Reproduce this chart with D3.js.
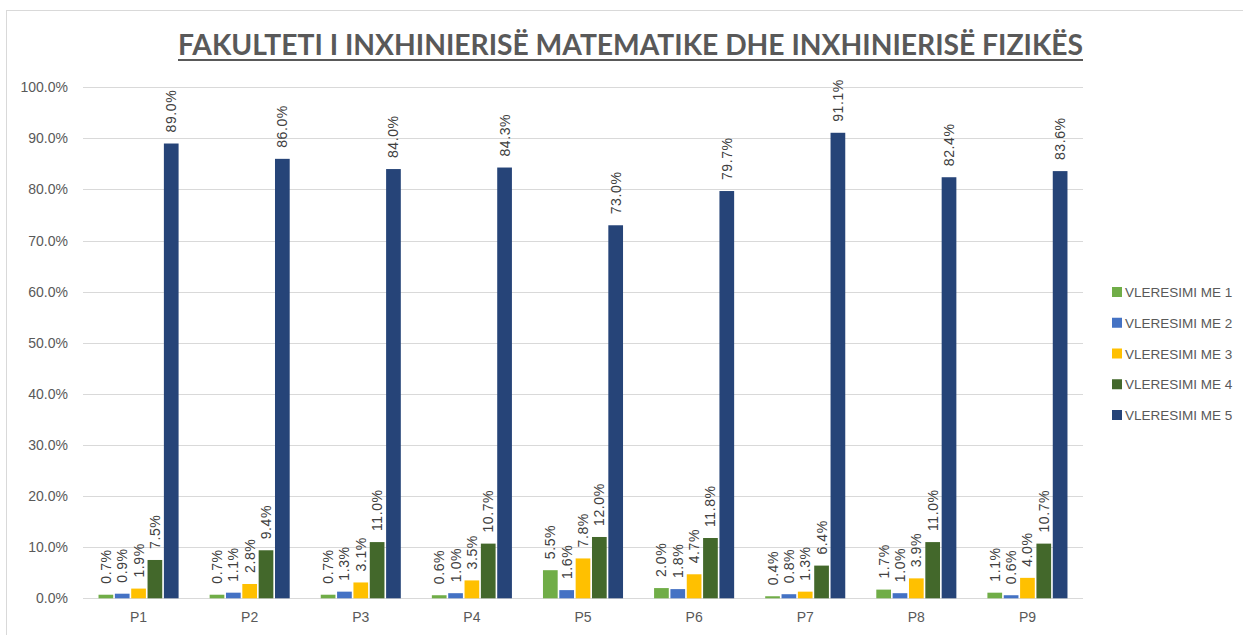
<!DOCTYPE html>
<html>
<head>
<meta charset="utf-8">
<script src="https://cdn.jsdelivr.net/npm/d3@7"></script>
<style>
  body { margin: 0; background: #fff; }
  text { font-family: "Liberation Sans", Arial, sans-serif; }
</style>
</head>
<body>
<div id="myChart"></div>
<script>
// data
var categories = ['P1', 'P2', 'P3', 'P4', 'P5', 'P6', 'P7', 'P8', 'P9'];
var seriesNames = ['VLERESIMI ME 1', 'VLERESIMI ME 2', 'VLERESIMI ME 3', 'VLERESIMI ME 4', 'VLERESIMI ME 5'];
var me1 = [0.7, 0.7, 0.7, 0.6, 5.5, 2.0, 0.4, 1.7, 1.1];
var me2 = [0.9, 1.1, 1.3, 1.0, 1.6, 1.8, 0.8, 1.0, 0.6];
var me3 = [1.9, 2.8, 3.1, 3.5, 7.8, 4.7, 1.3, 3.9, 4.0];
var me4 = [7.5, 9.4, 11.0, 10.7, 12.0, 11.8, 6.4, 11.0, 10.7];
var me5 = [89.0, 86.0, 84.0, 84.3, 73.0, 79.7, 91.1, 82.4, 83.6];
var yTicks = [0, 10, 20, 30, 40, 50, 60, 70, 80, 90, 100];

var series = [me1, me2, me3, me4, me5];
var colors = ['#70ad47', '#4472c4', '#ffc000', '#43682b', '#264478'];

var width = 1243, height = 635;

var svg = d3.select("#myChart").append("svg")
    .attr("width", width)
    .attr("height", height);

// chart frame
svg.append("rect")
    .attr("x", 6.5).attr("y", 10.5)
    .attr("width", 1260).attr("height", 640)
    .attr("fill", "#fff")
    .attr("stroke", "#d9d9d9");

// title
svg.append("text")
    .attr("x", 630.5).attr("y", 55)
    .attr("text-anchor", "middle")
    .attr("textLength", 905)
    .attr("lengthAdjust", "spacingAndGlyphs")
    .style("font-family", "Lato, 'Open Sans', sans-serif")
    .style("font-weight", "bold")
    .style("font-size", "29px")
    .attr("fill", "#595959")
    .text("FAKULTETI I INXHINIERISË MATEMATIKE DHE INXHINIERISË FIZIKËS");
svg.append("line")
    .attr("x1", 178).attr("x2", 1083)
    .attr("y1", 60).attr("y2", 60)
    .attr("stroke", "#595959")
    .attr("stroke-width", 2);

var x0 = d3.scaleBand()
    .domain(categories)
    .range([83, 1083])
    .paddingInner(0.25)
    .paddingOuter(0.125);

var x1 = d3.scaleBand()
    .domain(d3.range(series.length))
    .range([0, x0.bandwidth()])
    .padding(0.1);

var y = d3.scaleLinear()
    .domain([0, 100])
    .range([598.3, 87.3]);

// gridlines
svg.append("g")
    .selectAll("line")
    .data(yTicks)
    .enter()
    .append("line")
    .attr("x1", 83).attr("x2", 1083)
    .attr("y1", function(d) { return Math.round(y(d)) + 0.5; })
    .attr("y2", function(d) { return Math.round(y(d)) + 0.5; })
    .attr("stroke", "#d9d9d9");

// y axis labels
var yAxis = d3.axisLeft(y)
    .tickValues(yTicks)
    .tickSize(0)
    .tickPadding(15)
    .tickFormat(function(d) { return d.toFixed(1) + "%"; });

svg.append("g")
    .attr("transform", "translate(83,0)")
    .call(yAxis)
    .call(function(g) { g.select(".domain").remove(); })
    .selectAll("text")
    .style("font-family", "'Liberation Sans', Arial, sans-serif")
    .style("font-size", "14px")
    .attr("fill", "#595959");

// x axis labels
var xAxis = d3.axisBottom(x0)
    .tickSize(0)
    .tickPadding(14);

svg.append("g")
    .attr("transform", "translate(0,598.3)")
    .call(xAxis)
    .call(function(g) { g.select(".domain").remove(); })
    .selectAll("text")
    .style("font-family", "'Liberation Sans', Arial, sans-serif")
    .style("font-size", "14px")
    .attr("fill", "#595959");

// bars
var groups = svg.append("g")
    .selectAll("g")
    .data(categories)
    .enter()
    .append("g")
    .attr("transform", function(c) { return "translate(" + x0(c) + ",0)"; });

groups.selectAll("rect")
    .data(function(c, i) { return series.map(function(s, k) { return { k: k, v: s[i] }; }); })
    .enter()
    .append("rect")
    .attr("x", function(d) { return x1(d.k); })
    .attr("width", x1.bandwidth())
    .attr("y", function(d) { return y(d.v); })
    .attr("height", function(d) { return y(0) - y(d.v); })
    .attr("fill", function(d) { return colors[d.k]; });

// data labels (rotated, above each bar)
groups.selectAll("text")
    .data(function(c, i) { return series.map(function(s, k) { return { k: k, v: s[i] }; }); })
    .enter()
    .append("text")
    .attr("transform", function(d) {
        return "translate(" + (x1(d.k) + x1.bandwidth() / 2 + 5) + "," + (y(d.v) - 11) + ") rotate(-90)";
    })
    .style("font-family", "'Liberation Sans', Arial, sans-serif")
    .style("font-size", "14px")
    .style("letter-spacing", "0.6px")
    .attr("fill", "#404040")
    .text(function(d) { return d.v.toFixed(1) + "%"; });

// legend
var legend = svg.append("g")
    .selectAll("g")
    .data(seriesNames)
    .enter()
    .append("g")
    .attr("transform", function(d, i) { return "translate(1112," + (292 + i * 30.75) + ")"; });

legend.append("rect")
    .attr("x", 0).attr("y", -5)
    .attr("width", 10).attr("height", 10)
    .attr("fill", function(d, i) { return colors[i]; });

legend.append("text")
    .attr("x", 13).attr("y", 5)
    .style("font-size", "13.5px")
    .attr("fill", "#595959")
    .text(function(d) { return d; });
</script>
</body>
</html>
